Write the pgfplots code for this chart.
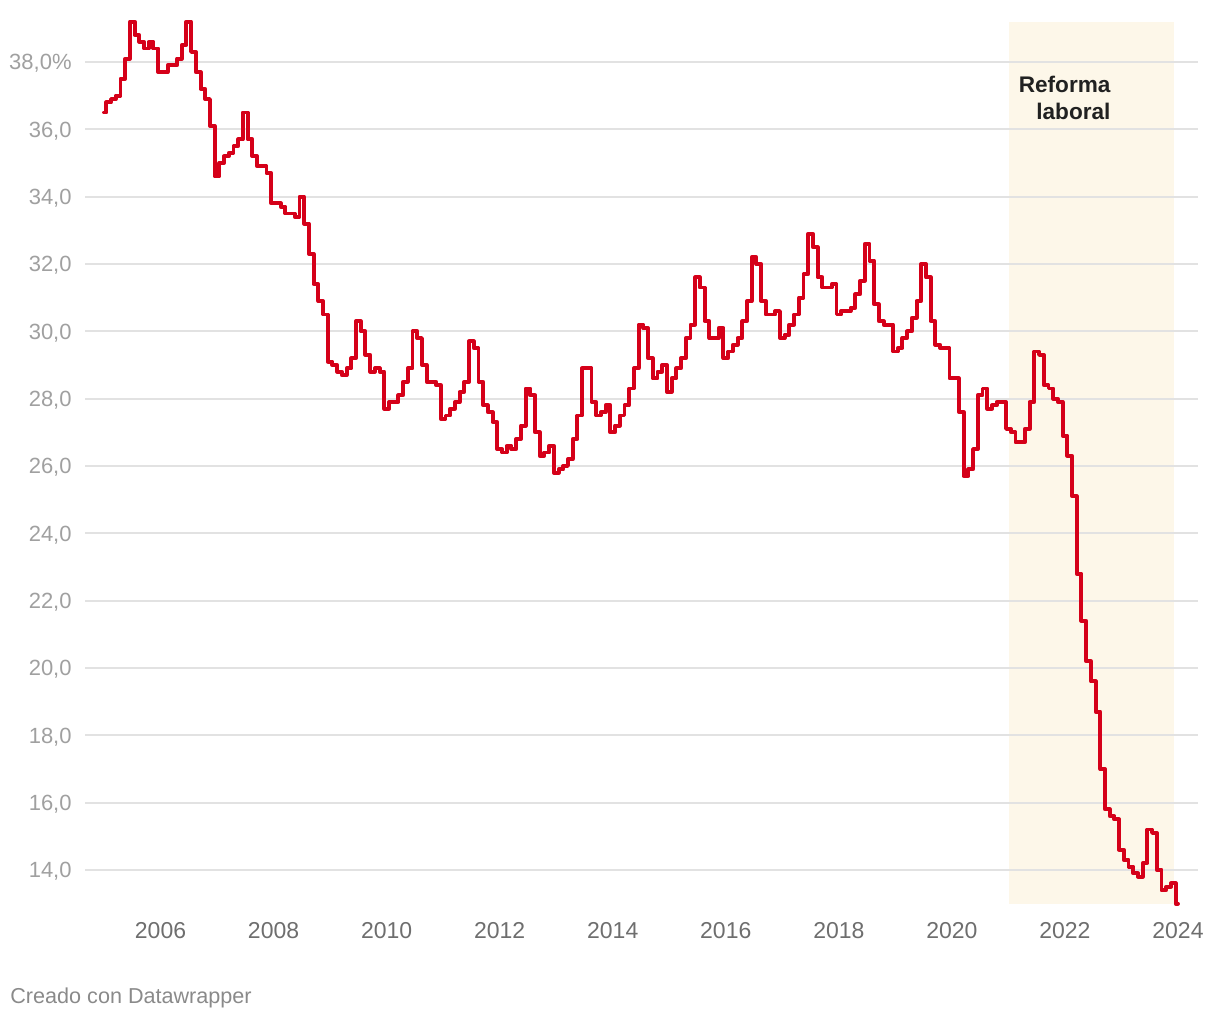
\documentclass[border=0pt]{standalone}
\usepackage{fontspec}
\setmainfont{Liberation Sans}
\usepackage{pgfplots}
\pgfplotsset{compat=1.18}

\definecolor{linered}{HTML}{D50019}
\definecolor{shade}{HTML}{FDF7E9}
\definecolor{gridgray}{HTML}{E2E2E2}
\definecolor{ylab}{HTML}{A0A0A0}
\definecolor{xlab}{HTML}{6E6E6E}
\definecolor{footgray}{HTML}{8A8A8A}

\begin{document}
\begin{tikzpicture}
\begin{axis}[
    set layers,
    scale only axis,
    width=556.5bp, height=441bp,
    xmin=-4.03, xmax=232.25,
    ymin=13, ymax=39.2,
    clip=false,
    axis line style={draw=none},
    major tick length=0pt,
    xtick={12,36,...,228},
    xticklabels={2006,2008,2010,2012,2014,2016,2018,2020,2022,2024},
    ytick={14,16,...,38},
    yticklabels={{14,0},{16,0},{18,0},{20,0},{22,0},{24,0},{26,0},{28,0},{30,0},{32,0},{34,0},{36,0},{38,0\%}},
    ymajorgrids,
    grid style={gridgray, line width=0.9bp},
    xticklabel style={font=\fontsize{11.5bp}{13bp}\selectfont, text=xlab,
        anchor=base, yshift=-17.3bp, inner sep=0pt},
    yticklabel style={font=\fontsize{11bp}{13bp}\selectfont, text=ylab,
        anchor=base east, xshift=-6.5bp, yshift=-3.9bp, inner sep=0pt},
]
% shaded period (months since Jan 2005)
\addplot[draw=none, fill=shade, on layer=axis background]
    coordinates {(192.2,13) (192.2,39.2) (227.1,39.2) (227.1,13)} -- cycle;

% x = months since Jan 2005
\addplot[linered, line width=1.95bp, const plot mark mid, line join=round, line cap=round]
coordinates {
(0,36.5) (1,36.8) (2,36.9) (3,37.0) (4,37.5) (5,38.1) (6,39.2) (7,38.8) (8,38.6) (9,38.4) (10,38.6) (11,38.4)
(12,37.7) (13,37.7) (14,37.9) (15,37.9) (16,38.1) (17,38.5) (18,39.2) (19,38.3) (20,37.7) (21,37.2) (22,36.9) (23,36.1)
(24,34.6) (25,35.0) (26,35.2) (27,35.3) (28,35.5) (29,35.7) (30,36.5) (31,35.7) (32,35.2) (33,34.9) (34,34.9) (35,34.7)
(36,33.8) (37,33.8) (38,33.7) (39,33.5) (40,33.5) (41,33.4) (42,34.0) (43,33.2) (44,32.3) (45,31.4) (46,30.9) (47,30.5)
(48,29.1) (49,29.0) (50,28.8) (51,28.7) (52,28.9) (53,29.2) (54,30.3) (55,30.0) (56,29.3) (57,28.8) (58,28.9) (59,28.8)
(60,27.7) (61,27.9) (62,27.9) (63,28.1) (64,28.5) (65,28.9) (66,30.0) (67,29.8) (68,29.0) (69,28.5) (70,28.5) (71,28.4)
(72,27.4) (73,27.5) (74,27.7) (75,27.9) (76,28.2) (77,28.5) (78,29.7) (79,29.5) (80,28.5) (81,27.8) (82,27.6) (83,27.3)
(84,26.5) (85,26.4) (86,26.6) (87,26.5) (88,26.8) (89,27.2) (90,28.3) (91,28.1) (92,27.0) (93,26.3) (94,26.4) (95,26.6)
(96,25.8) (97,25.9) (98,26.0) (99,26.2) (100,26.8) (101,27.5) (102,28.9) (103,28.9) (104,27.9) (105,27.5) (106,27.6) (107,27.8)
(108,27.0) (109,27.2) (110,27.5) (111,27.8) (112,28.3) (113,28.9) (114,30.2) (115,30.1) (116,29.2) (117,28.6) (118,28.8) (119,29.0)
(120,28.2) (121,28.6) (122,28.9) (123,29.2) (124,29.8) (125,30.2) (126,31.6) (127,31.3) (128,30.3) (129,29.8) (130,29.8) (131,30.1)
(132,29.2) (133,29.4) (134,29.6) (135,29.8) (136,30.3) (137,30.9) (138,32.2) (139,32.0) (140,30.9) (141,30.5) (142,30.5) (143,30.6)
(144,29.8) (145,29.9) (146,30.2) (147,30.5) (148,31.0) (149,31.7) (150,32.9) (151,32.5) (152,31.6) (153,31.3) (154,31.3) (155,31.4)
(156,30.5) (157,30.6) (158,30.6) (159,30.7) (160,31.1) (161,31.5) (162,32.6) (163,32.1) (164,30.8) (165,30.3) (166,30.2) (167,30.2)
(168,29.4) (169,29.5) (170,29.8) (171,30.0) (172,30.4) (173,30.9) (174,32.0) (175,31.6) (176,30.3) (177,29.6) (178,29.5) (179,29.5)
(180,28.6) (181,28.6) (182,27.6) (183,25.7) (184,25.9) (185,26.5) (186,28.1) (187,28.3) (188,27.7) (189,27.8) (190,27.9) (191,27.9)
(192,27.1) (193,27.0) (194,26.7) (195,26.7) (196,27.1) (197,27.9) (198,29.4) (199,29.3) (200,28.4) (201,28.3) (202,28.0) (203,27.9)
(204,26.9) (205,26.3) (206,25.1) (207,22.8) (208,21.4) (209,20.2) (210,19.6) (211,18.7) (212,17.0) (213,15.8) (214,15.6) (215,15.5)
(216,14.6) (217,14.3) (218,14.1) (219,13.9) (220,13.8) (221,14.2) (222,15.2) (223,15.1) (224,14.0) (225,13.4) (226,13.5) (227,13.6)
(228,13.0)
};

\node[anchor=base east, inner sep=0pt, font=\bfseries\fontsize{11.3bp}{13bp}\selectfont, text=black!87]
    at (axis cs:213.75,37.10) {Reforma};
\node[anchor=base east, inner sep=0pt, font=\bfseries\fontsize{11.3bp}{13bp}\selectfont, text=black!87]
    at (axis cs:213.75,36.30) {laboral};
\end{axis}

\node[anchor=base west, inner sep=0pt, font=\fontsize{10.8bp}{13bp}\selectfont, text=footgray]
    at (-37.5bp,-50.15bp) {Creado con Datawrapper};

\pgfresetboundingbox
\path[use as bounding box] (-42.5bp,-58.15bp) rectangle (567.5bp,451.8bp);
\end{tikzpicture}
\end{document}
